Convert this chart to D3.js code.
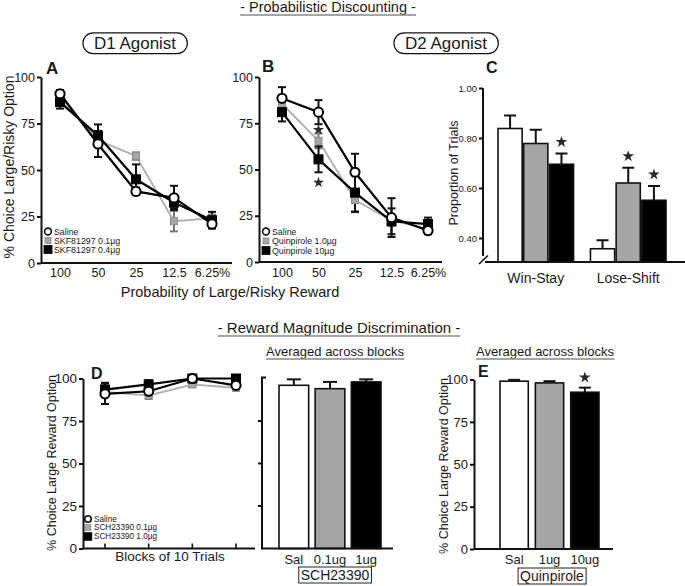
<!DOCTYPE html>
<html><head><meta charset="utf-8">
<script src="https://cdn.jsdelivr.net/npm/d3@7"></script>
<style>
body{margin:0;background:#fff}
svg text{font-family:"Liberation Sans", Arial, Helvetica, sans-serif; fill:#1a1a1a}
</style>
</head><body>
<svg id="c" width="685" height="586"></svg>
<script>
// ---------- DATA ----------
const probLabels = ["100","50","25","12.5","6.25%"];
// Panel A (D1 agonist)
const d1Names = ["Saline","SKF81297 0.1µg","SKF81297 0.4µg"];
const d1Saline = [91, 64, 38.5, 35, 21];
const d1SalineErr = [2, 7, 2, 6.5, 1.5];
const d1Low = [89.5, 66, 57.5, 22.5, 24];
const d1LowErr = [2, 3, 2, 5.5, 2];
const d1High = [86.5, 68.5, 45, 32.5, 23];
const d1HighErr = [3.5, 6, 8, 3, 4.5];
// Panel B (D2 agonist)
const d2Names = ["Saline","Quinpirole 1.0µg","Quinpirole 10µg"];
const d2Saline = [88.5, 81, 48.5, 24, 17];
const d2SalineErr = [6, 6.5, 10, 10.5, 2];
const d2Low = [85.5, 65.5, 33.5, 22.5, 18];
const d2LowErr = [3, 4, 6, 3, 2];
const d2High = [81, 55.5, 37.5, 22, 20.5];
const d2HighErr = [5, 7, 10.5, 7, 3.5];
const d2StarPos = [71.5, 43]; // stars at 50% level
// Panel C
const cGroups = ["Win-Stay","Lose-Shift"];
const cTicks = [0.40, 0.60, 0.80, 1.00];
const winStay = [0.838, 0.778, 0.695];
const winStayErr = [0.052, 0.055, 0.043];
const loseShift = [0.357, 0.620, 0.551];
const loseShiftErr = [0.034, 0.061, 0.057];
const cStars = [[0,2],[1,1],[1,2]];
// Panel D (SCH23390 blocks)
const blocks = ["1","2","3","4"];
const dNames = ["Saline","SCH23390 0.1µg","SCH23390 1.0µg"];
const dSaline = [91, 92.5, 100, 96];
const dSalineErr = [6, 2, 1, 2];
const dLow = [92, 90, 96.5, 94.5];
const dLowErr = [2, 2, 1.5, 1.5];
const dHigh = [93.5, 96.5, 100, 100];
const dHighErr = [4, 2.5, 1, 1];
const schLabels = ["Sal","0.1ug","1ug"];
const schMeans = [96, 94, 98];
const schErr = [3.5, 4, 1.5];
// Panel E (Quinpirole)
const quinLabels = ["Sal","1ug","10ug"];
const quinMeans = [99, 98, 92.5];
const quinErr = [0.8, 1, 2.7];
const pctTicks = [0, 25, 50, 75, 100];

// ---------- STYLES ----------
const GRAY_LINE = "#b3b3b3", GRAY_FILL = "#a6a6a6", BLACK = "#000";
const svg = d3.select("#c");
const FF = '"Liberation Sans", Arial, sans-serif';

function txt(x, y, s, opts = {}) {
  const t = svg.append("text").attr("x", x).attr("y", y).text(s)
    .attr("font-size", opts.size || 12)
    .attr("text-anchor", opts.anchor || "start")
    .attr("font-weight", opts.bold ? "bold" : null);
  if (opts.rotate) t.attr("transform", `rotate(-90,${x},${y})`);
  return t;
}
function underlined(x, y, s, size) {
  const t = txt(x, y, s, {size, anchor: "middle"});
  const b = t.node().getBBox();
  svg.append("line").attr("x1", b.x).attr("x2", b.x + b.width)
    .attr("y1", y + 3).attr("y2", y + 3).attr("stroke", "#888").attr("stroke-width", 1.3);
}
function pill(cx, cy, s, size) {
  const t = txt(cx, cy, s, {size, anchor: "middle"});
  const b = t.node().getBBox();
  svg.insert("rect", "text").attr("x", b.x - 11).attr("y", cy - size * 0.95)
    .attr("width", b.width + 22).attr("height", size * 1.22)
    .attr("rx", size * 0.61).attr("fill", "#fff").attr("stroke", "#111").attr("stroke-width", 1.2);
}
function boxed(cx, cy, s, size) {
  const t = txt(cx, cy, s, {size, anchor: "middle"});
  const b = t.node().getBBox();
  svg.append("rect").attr("x", b.x - 2).attr("y", b.y)
    .attr("width", b.width + 4).attr("height", b.height)
    .attr("fill", "none").attr("stroke", "#222").attr("stroke-width", 1);
}
function yAxis(x0, y, ticks, fmt, size, keepDomain = true) {
  const g = svg.append("g").attr("transform", `translate(${x0},0)`)
    .call(d3.axisLeft(y).tickValues(ticks).tickFormat(fmt).tickSize(4).tickSizeOuter(0).tickPadding(2));
  g.select(".domain").attr("stroke-width", 2).attr("stroke", "#111");
  if (!keepDomain) g.select(".domain").remove();
  g.selectAll(".tick line").attr("stroke-width", 2).attr("stroke", "#111");
  g.selectAll(".tick text").attr("font-size", size).attr("font-family", FF).attr("fill", "#1a1a1a");
  return g;
}
function hLine(x1, x2, y) {
  svg.append("line").attr("x1", x1).attr("x2", x2).attr("y1", y).attr("y2", y)
    .attr("stroke", "#111").attr("stroke-width", 2);
}
function xLabels(x, y0, labels, size, pad) {
  const g = svg.append("g").attr("transform", `translate(0,${y0})`)
    .call(d3.axisBottom(x).tickValues(labels).tickSize(0).tickPadding(pad));
  g.select(".domain").remove();
  g.selectAll(".tick text").attr("font-size", size).attr("font-family", FF).attr("fill", "#1a1a1a");
}
function star(x, y, size) {
  svg.append("path").attr("d", d3.symbol(d3.symbolStar, size)())
    .attr("transform", `translate(${x},${y})`).attr("fill", "#2a2a2a");
}
const markerStyles = [
  {line: BLACK, shape: "circle", r: 4.6, fill: "#fff", stroke: BLACK, sw: 2},
  {line: GRAY_LINE, shape: "square", s: 7, fill: GRAY_FILL, stroke: "#8a8a8a", sw: 1},
  {line: BLACK, shape: "square", s: 9, fill: BLACK, stroke: BLACK, sw: 1}
];
function drawSeries(x, y, cats, series, errs, capW) {
  const line = d3.line().x((d, i) => x(cats[i])).y(d => y(d));
  const order = [1, 2, 0];
  order.forEach(k => {
    svg.append("path").attr("d", line(series[k])).attr("fill", "none")
      .attr("stroke", markerStyles[k].line).attr("stroke-width", k === 1 ? 2 : 2.2);
  });
  order.forEach(k => {
    series[k].forEach((v, i) => {
      const cx = x(cats[i]);
      const col = k === 1 ? "#777" : "#111";
      svg.append("line").attr("x1", cx).attr("x2", cx).attr("y1", y(v - errs[k][i])).attr("y2", y(v + errs[k][i]))
        .attr("stroke", col).attr("stroke-width", 2);
      [v - errs[k][i], v + errs[k][i]].forEach(e => {
        svg.append("line").attr("x1", cx - capW / 2).attr("x2", cx + capW / 2).attr("y1", y(e)).attr("y2", y(e))
          .attr("stroke", col).attr("stroke-width", 2);
      });
    });
  });
  order.forEach(k => {
    const st = markerStyles[k];
    series[k].forEach((v, i) => {
      const cx = x(cats[i]), cy = y(v);
      if (st.shape === "circle")
        svg.append("circle").attr("cx", cx).attr("cy", cy).attr("r", st.r)
          .attr("fill", st.fill).attr("stroke", st.stroke).attr("stroke-width", st.sw);
      else
        svg.append("rect").attr("x", cx - st.s / 2).attr("y", cy - st.s / 2).attr("width", st.s).attr("height", st.s)
          .attr("fill", st.fill).attr("stroke", st.stroke).attr("stroke-width", st.sw);
    });
  });
}
function legend(x0, ys, names, size, scale) {
  names.forEach((n, k) => {
    const st = markerStyles[k], y = ys[k];
    if (st.shape === "circle")
      svg.append("circle").attr("cx", x0).attr("cy", y).attr("r", 3.4 * scale)
        .attr("fill", "#fff").attr("stroke", "#111").attr("stroke-width", 1.6);
    else {
      const s = (k === 1 ? 6 : 8) * scale;
      svg.append("rect").attr("x", x0 - s / 2).attr("y", y - s / 2).attr("width", s).attr("height", s)
        .attr("fill", st.fill).attr("stroke", st.stroke).attr("stroke-width", 0.8);
    }
    txt(x0 + 6, y + size * 0.36, n, {size});
  });
}
function bars(x, y, cats, means, errs, capW) {
  const fills = ["#fff", GRAY_FILL, BLACK];
  cats.forEach((c, i) => {
    const top = y(means[i] + errs[i]);
    svg.append("line").attr("x1", x(c) + x.bandwidth() / 2).attr("x2", x(c) + x.bandwidth() / 2)
      .attr("y1", y(means[i])).attr("y2", top).attr("stroke", "#111").attr("stroke-width", 2);
    svg.append("line").attr("x1", x(c) + x.bandwidth() / 2 - capW / 2).attr("x2", x(c) + x.bandwidth() / 2 + capW / 2)
      .attr("y1", top).attr("y2", top).attr("stroke", "#111").attr("stroke-width", 2);
    svg.append("rect").attr("x", x(c)).attr("y", y(means[i])).attr("width", x.bandwidth())
      .attr("height", y.range()[0] - y(means[i])).attr("fill", fills[i]).attr("stroke", "#111").attr("stroke-width", 1.6);
  });
}

// ---------- TITLES ----------
underlined(328, 12, "- Probabilistic Discounting -", 14.5);
pill(135, 49, "D1 Agonist", 17);
pill(446, 49, "D2 Agonist", 17);

// ---------- PANEL A ----------
const xA = d3.scalePoint().domain(probLabels).range([60, 212]);
const yA = d3.scaleLinear().domain([0, 100]).range([263, 77]);
yAxis(41, yA, pctTicks, d3.format("d"), 12.5);
hLine(41, 232, 263);
xLabels(xA, 263, probLabels, 12.5, 5);
drawSeries(xA, yA, probLabels, [d1Saline, d1Low, d1High], [d1SalineErr, d1LowErr, d1HighErr], 8);
legend(48, [231.5, 240.5, 249.5], d1Names, 8.8, 1);
txt(46, 74, "A", {size: 17, bold: true});
txt(14, 167, "% Choice Large/Risky Option", {size: 14, anchor: "middle", rotate: true});
txt(230, 297, "Probability of Large/Risky Reward", {size: 14.5, anchor: "middle"});

// ---------- PANEL B ----------
const xB = d3.scalePoint().domain(probLabels).range([282, 428]);
const yB = d3.scaleLinear().domain([0, 100]).range([262, 77]);
yAxis(259, yB, pctTicks, d3.format("d"), 12.5);
hLine(259, 442, 262);
xLabels(xB, 262, probLabels, 12.5, 6);
drawSeries(xB, yB, probLabels, [d2Saline, d2Low, d2High], [d2SalineErr, d2LowErr, d2HighErr], 8);
d2StarPos.forEach(v => star(xB("50"), yB(v), 38));
legend(266, [231.5, 241, 250.5], d2Names, 8.8, 1);
txt(262, 72, "B", {size: 17, bold: true});

// ---------- PANEL C ----------
const yC = d3.scaleLinear().domain([0.3, 1]).range([263, 88]);
const xC = d3.scaleBand().domain(cGroups).range([498, 666]).paddingInner(0.183);
const xCi = d3.scaleBand().domain([0, 1, 2]).range([0, xC.bandwidth()]).paddingInner(0.06);
yAxis(483, yC, cTicks, d3.format(".2f"), 9.5, false);
svg.append("line").attr("x1", 483).attr("x2", 483).attr("y1", yC(1)).attr("y2", 256)
  .attr("stroke", "#111").attr("stroke-width", 2);
svg.append("line").attr("x1", 479).attr("x2", 488).attr("y1", 264).attr("y2", 255.5)
  .attr("stroke", "#111").attr("stroke-width", 1.6);
const cData = [[winStay, winStayErr], [loseShift, loseShiftErr]];
const cFills = ["#fff", GRAY_FILL, BLACK];
cGroups.forEach((g, gi) => {
  [0, 1, 2].forEach(k => {
    const bx = xC(g) + xCi(k), bw = xCi.bandwidth(), v = cData[gi][0][k], e = cData[gi][1][k];
    const cx = bx + bw / 2;
    svg.append("line").attr("x1", cx).attr("x2", cx).attr("y1", yC(v)).attr("y2", yC(v + e))
      .attr("stroke", "#111").attr("stroke-width", 2);
    svg.append("line").attr("x1", cx - 6).attr("x2", cx + 6).attr("y1", yC(v + e)).attr("y2", yC(v + e))
      .attr("stroke", "#111").attr("stroke-width", 2);
    svg.append("rect").attr("x", bx).attr("y", yC(v)).attr("width", bw).attr("height", 262 - yC(v))
      .attr("fill", cFills[k]).attr("stroke", "#111").attr("stroke-width", 1.6);
  });
});
hLine(485, 685, 262);
cStars.forEach(([gi, k]) => {
  const cx = xC(cGroups[gi]) + xCi(k) + xCi.bandwidth() / 2;
  star(cx, yC(cData[gi][0][k] + cData[gi][1][k]) - 11.5, 42);
});
cGroups.forEach(g => txt(xC(g) + xC.bandwidth() / 2, 283, g, {size: 14, anchor: "middle"}));
txt(458, 173, "Proportion of Trials", {size: 12.5, anchor: "middle", rotate: true});
txt(486, 73, "C", {size: 16, bold: true});

// ---------- SECTION 2 ----------
underlined(339, 333, "- Reward Magnitude Discrimination -", 15);

// ---------- PANEL D ----------
const yD = d3.scaleLinear().domain([0, 100]).range([548.5, 378.5]);
const xD = d3.scalePoint().domain(blocks).range([105, 236]);
yAxis(83, yD, pctTicks, d3.format("d"), 13.5);
hLine(83, 255, 548.5);
blocks.forEach(b => svg.append("line").attr("x1", xD(b)).attr("x2", xD(b)).attr("y1", 548.5).attr("y2", 543.5)
  .attr("stroke", "#111").attr("stroke-width", 1.6));
drawSeries(xD, yD, blocks, [dSaline, dLow, dHigh], [dSalineErr, dLowErr, dHighErr], 8);
legend(88, [519, 527.5, 536.5], dNames, 8.2, 0.95);
txt(91, 379, "D", {size: 16, bold: true});
txt(56, 463, "% Choice Large Reward Option", {size: 12.5, anchor: "middle", rotate: true});
txt(170, 561, "Blocks of 10 Trials", {size: 13.5, anchor: "middle"});

// SCH23390 averaged bars
const xS = d3.scaleBand().domain(schLabels).range([279, 381]).paddingInner(0.18);
svg.append("line").attr("x1", 262).attr("x2", 262).attr("y1", yD(100) - 1).attr("y2", yD(0)).attr("stroke", "#111").attr("stroke-width", 2);
svg.append("line").attr("x1", 261).attr("x2", 266).attr("y1", yD(100) - 1).attr("y2", yD(100) - 1).attr("stroke", "#111").attr("stroke-width", 2);
[25, 50, 75].forEach(t => svg.append("line").attr("x1", 258).attr("x2", 262).attr("y1", yD(t)).attr("y2", yD(t)).attr("stroke", "#111").attr("stroke-width", 2));
bars(xS, yD, schLabels, schMeans, schErr, 14);
hLine(261, 393, 548.5);
xLabels(xS, 548.5, schLabels, 13, 6);
boxed(335, 580, "SCH23390", 14);
underlined(335, 356, "Averaged across blocks", 13);

// ---------- PANEL E ----------
const yE = d3.scaleLinear().domain([0, 100]).range([549, 379.5]);
const xE = d3.scaleBand().domain(quinLabels).range([500, 599]).paddingInner(0.2);
yAxis(474, yE, pctTicks, d3.format("d"), 13);
bars(xE, yE, quinLabels, quinMeans, quinErr, 12);
hLine(474, 613, 549);
xLabels(xE, 549, quinLabels, 13, 6);
star(xE("10ug") + xE.bandwidth() / 2, 377.5, 42);
boxed(552, 581, "Quinpirole", 14);
underlined(545, 356, "Averaged across blocks", 13);
txt(478, 377, "E", {size: 16, bold: true});
txt(448, 466, "% Choice Large Reward Option", {size: 12.5, anchor: "middle", rotate: true});
</script>
</body></html>
